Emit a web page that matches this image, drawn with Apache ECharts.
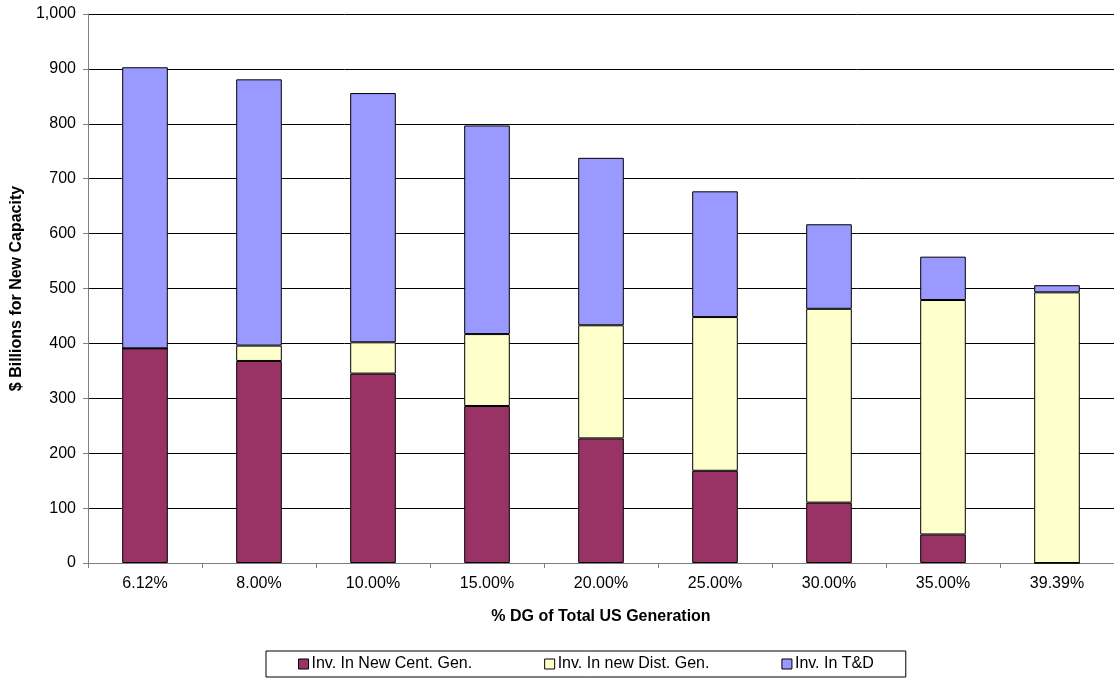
<!DOCTYPE html>
<html>
<head>
<meta charset="utf-8">
<script src="https://cdn.jsdelivr.net/npm/echarts@6/dist/echarts.min.js"></script>
<style>html,body{margin:0;padding:0;background:#fff}#c{width:1114px;height:679px}</style>
</head>
<body>
<div id="c"></div>
<script>
const categories = ['6.12%', '8.00%', '10.00%', '15.00%', '20.00%', '25.00%', '30.00%', '35.00%', '39.39%'];
const centGen = [391, 368, 345, 286, 227, 168, 110, 52, 0];
const distGen = [0, 28, 57, 131, 206, 280, 353, 427, 493];
const tnd = [512, 485, 454, 380, 305, 229, 154, 79, 13];
const seriesNames = ['Inv. In New Cent. Gen.', 'Inv. In new Dist. Gen.', 'Inv. In T&D'];
const colors = ['#993366', '#FFFFCC', '#9999FF'];

const font = 'Liberation Sans, Arial, sans-serif';
const chart = echarts.init(document.getElementById('c'), null, {renderer: 'canvas'});
const mk = (name, data, color) => ({
  name, type: 'bar', stack: 'total', data, barWidth: '40%',
  itemStyle: {color, borderColor: '#000', borderWidth: 1},
  emphasis: {disabled: true}
});
chart.setOption({
  animation: false,
  backgroundColor: '#fff',
  textStyle: {fontFamily: font},
  grid: {left: 88, right: 0, top: 14, bottom: 116, containLabel: false},
  legend: {
    data: seriesNames.map(n => ({name: n, icon: 'rect'})),
    bottom: 2, left: 266,
    itemWidth: 10, itemHeight: 10, itemGap: 72,
    borderColor: '#000', borderWidth: 1, padding: [5, 32, 5, 32],
    textStyle: {fontSize: 16, color: '#000', fontFamily: font, padding: [0, 0, 0, -2]},
    itemStyle: {borderColor: '#000', borderWidth: 1}
  },
  xAxis: {
    type: 'category', data: categories,
    axisLine: {lineStyle: {color: '#808080', width: 1}},
    axisTick: {show: true, length: 5, lineStyle: {color: '#808080'}},
    axisLabel: {fontSize: 16, color: '#000', margin: 13, fontFamily: font},
    name: '% DG of Total US Generation', nameLocation: 'middle', nameGap: 46,
    nameTextStyle: {fontSize: 16, fontWeight: 'bold', color: '#000', fontFamily: font}
  },
  yAxis: {
    type: 'value', min: 0, max: 1000, interval: 100,
    axisLine: {show: true, lineStyle: {color: '#808080', width: 1}},
    axisTick: {show: true, length: 5, lineStyle: {color: '#808080'}},
    splitLine: {show: true, lineStyle: {color: '#000', width: 1}},
    axisLabel: {fontSize: 16, color: '#000', margin: 12, fontFamily: font,
      formatter: v => v.toLocaleString('en-US')},
    name: '$ Billions for New Capacity', nameLocation: 'middle', nameGap: 60,
    nameTextStyle: {fontSize: 16, fontWeight: 'bold', color: '#000', fontFamily: font}
  },
  series: [
    mk(seriesNames[0], centGen, colors[0]),
    mk(seriesNames[1], distGen, colors[1]),
    mk(seriesNames[2], tnd, colors[2])
  ]
});
</script>
</body>
</html>
